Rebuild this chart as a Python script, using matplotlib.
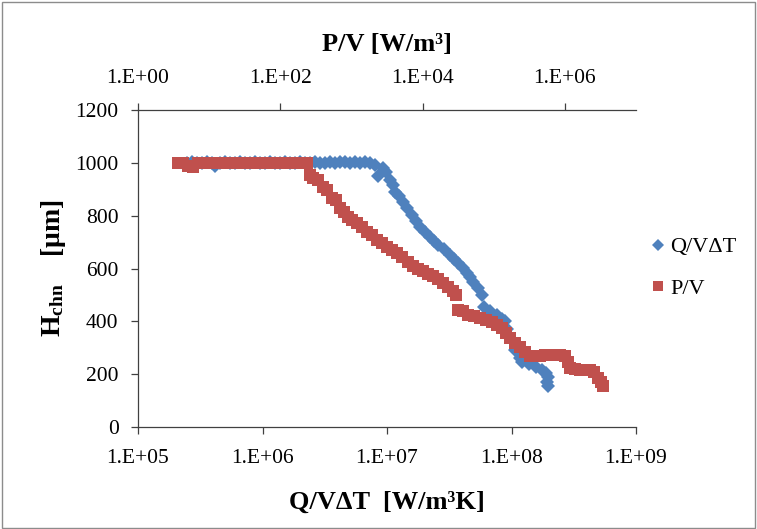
import math
import matplotlib
matplotlib.use("Agg")
import matplotlib.pyplot as plt
from matplotlib.ticker import FixedLocator, FuncFormatter, NullLocator
from matplotlib.patches import Rectangle

plt.rcParams["font.family"] = ["Liberation Serif", "DejaVu Serif"]
plt.rcParams["mathtext.fontset"] = "custom"
plt.rcParams["mathtext.rm"] = "Liberation Serif"
plt.rcParams["mathtext.bf"] = "Liberation Serif:bold"
plt.rcParams["mathtext.it"] = "Liberation Serif:italic"

# Q/VΔT series [W/m3K] vs channel height [um]
q_x = [2.48e5, 2.72e5, 2.98e5, 3.27e5, 3.58e5, 3.93e5, 4.15e5, 4.56e5, 5.00e5, 5.48e5,
       6.01e5, 6.59e5, 7.23e5, 7.94e5, 8.71e5, 9.55e5, 1.05e6, 1.15e6, 1.26e6, 1.38e6,
       1.52e6, 1.66e6, 1.82e6, 2.00e6, 2.19e6, 2.41e6, 2.64e6, 2.90e6, 3.18e6, 3.48e6,
       3.82e6, 4.19e6, 4.60e6, 5.04e6, 5.53e6, 6.07e6, 6.66e6, 7.30e6,
       8.01e6, 8.47e6, 9.29e6, 9.82e6, 1.06e7, 1.12e7, 1.16e7, 1.25e7, 1.35e7, 1.45e7,
       1.59e7, 1.71e7, 1.84e7, 2.02e7, 2.21e7, 2.39e7, 2.57e7, 2.87e7, 3.21e7, 3.45e7,
       3.72e7, 4.07e7, 4.39e7, 4.64e7, 4.91e7, 5.38e7, 5.80e7, 6.01e7, 6.72e7, 7.65e7,
       8.39e7, 8.80e7, 9.20e7, 1.01e8, 1.07e8, 1.17e8, 1.21e8, 1.37e8, 1.57e8, 1.76e8,
       1.90e8, 1.96e8, 1.93e8, 1.95e8]
q_h = [1000, 1002, 998, 1000, 1003, 998, 988, 1000, 1002, 998,
       1000, 1003, 999, 1000, 1002, 998, 1001, 1003, 999, 1000,
       1002, 998, 1001, 1003, 999, 1000, 1003, 998, 1001, 1003,
       999, 1002, 1003, 1000, 1003, 1001, 1002, 1000,
       990, 950, 980, 965, 936, 915, 891, 875, 853, 830,
       803, 780, 758, 740, 720, 705, 690, 672, 652, 637,
       621, 603, 584, 567, 550, 527, 500, 455, 440, 425,
       410, 400, 370, 330, 292, 262, 246, 240, 228, 215,
       205, 190, 172, 155]

# P/V series [W/m3] vs channel height [um]
p_x = [3.65, 4.29, 5.05, 5.93, 6.97, 8.20, 9.64, 11.3, 13.3, 15.7,
       18.4, 21.7, 25.5, 29.9, 35.2, 41.4, 48.6, 57.2, 67.3, 79.1,
       93.0, 109, 128, 151, 177, 209, 238, 262, 289, 339,
       399, 454, 534, 608, 692, 787, 896, 1020, 1200, 1410,
       1660, 1950, 2290, 2690, 3170, 3720, 4380, 5150, 6250, 7350,
       8650, 10200, 11900, 14000, 16500, 19400, 22800, 26800, 29600, 31600,
       37100, 43600, 52900, 64300, 78000, 94800, 111000, 131000, 149000, 170000,
       200000, 235000, 276000, 324000, 381000, 449000, 527000, 619000, 729000, 857000,
       1.01e6, 1.11e6, 1.18e6, 1.39e6, 1.64e6, 1.92e6, 2.26e6, 2.58e6, 2.93e6, 3.23e6,
       3.45e6]
p_h = [1000, 1000, 988, 985, 1000, 1000, 1000, 998, 1000, 1000,
       1000, 1000, 998, 1000, 1000, 1000, 998, 1000, 1000, 1000,
       1000, 1000, 1000, 1000, 1000, 1000, 1000, 955, 944, 936,
       910, 898, 868, 860, 830, 815, 796, 785, 773, 758,
       739, 725, 709, 697, 682, 670, 659, 644, 625, 610,
       600, 590, 578, 570, 560, 545, 531, 515, 500, 444,
       440, 425, 420, 413, 405, 398, 385, 375, 355, 337,
       318, 303, 285, 268, 268, 268, 271, 272, 272, 272,
       270, 245, 224, 218, 216, 216, 216, 210, 186, 170,
       155]

q_ticks = [1e5, 1e6, 1e7, 1e8, 1e9]
p_ticks = [1e0, 1e2, 1e4, 1e6]
h_ticks = [0, 200, 400, 600, 800, 1000, 1200]

blue = "#4F81BD"
red = "#C0504D"
axis_col = "#404040"
tick_fs = 15.5
label_fs = 19

fig = plt.figure(figsize=(7.57, 5.29), dpi=100)
ax = fig.add_axes([138 / 757, 1 - 427 / 529, (636 - 138) / 757, (427 - 110) / 529])

ax.set_xscale("log")
ax.set_xlim(1e5, 1e9)
ax.set_ylim(0, 1200)
ax.plot(q_x, q_h, linestyle="none", marker="D", markersize=7.5, color=blue,
        markeredgewidth=0, label="Q/VΔT")


def sci_label(v, pos):
    e = int(round(math.log10(v)))
    return f"1.E+{e:02d}"


ax.xaxis.set_major_locator(FixedLocator(q_ticks))
ax.xaxis.set_minor_locator(NullLocator())
ax.xaxis.set_major_formatter(FuncFormatter(sci_label))
ax.yaxis.set_major_locator(FixedLocator(h_ticks))
ax.tick_params(axis="both", direction="out", length=5, width=0.9, labelsize=tick_fs,
               color=axis_col)
ax.tick_params(axis="x", pad=11)
ax.tick_params(axis="y", pad=9)
ax.spines["right"].set_visible(False)
ax.spines["top"].set_visible(False)
for s in ("left", "bottom"):
    ax.spines[s].set_color(axis_col)
    ax.spines[s].set_linewidth(0.9)

ax2 = ax.twiny()
ax2.set_xscale("log")
ax2.set_xlim(1e0, 1e7)
ax2.plot(p_x, p_h, linestyle="none", marker="s", markersize=8.5, color=red,
         markeredgewidth=0, label="P/V")
ax2.xaxis.set_major_locator(FixedLocator(p_ticks))
ax2.xaxis.set_minor_locator(NullLocator())
ax2.xaxis.set_major_formatter(FuncFormatter(sci_label))
ax2.tick_params(axis="x", direction="out", length=5, width=0.9, labelsize=tick_fs,
                color=axis_col, pad=11)
for s in ("left", "bottom", "right"):
    ax2.spines[s].set_visible(False)
ax2.spines["top"].set_color(axis_col)
ax2.spines["top"].set_linewidth(0.9)

ax.set_xlabel("Q/VΔT  [W/m³K]", fontsize=label_fs, fontweight="bold", labelpad=16)
ax2.set_xlabel("P/V [W/m³]", fontsize=label_fs, fontweight="bold", labelpad=13)
ax.set_ylabel(r"H$_{\mathbf{chn}}$    [μm]", fontsize=label_fs + 1, fontweight="bold",
              labelpad=5)

# legend drawn from both series
handles = ax.get_legend_handles_labels()[0] + ax2.get_legend_handles_labels()[0]
labels = [h.get_label() for h in handles]
fig.legend(handles, labels, loc="center left", bbox_to_anchor=(631 / 757, 1 - 268 / 529),
           frameon=False, fontsize=16, handlelength=0.6, handletextpad=0.25,
           labelspacing=0.95, markerscale=0.85)

fig.patches.append(Rectangle((0.002, 0.002), 0.996, 0.994, transform=fig.transFigure,
                             fill=False, edgecolor="#8c8c8c", linewidth=1.0))

fig.savefig("out.png", dpi=100)
